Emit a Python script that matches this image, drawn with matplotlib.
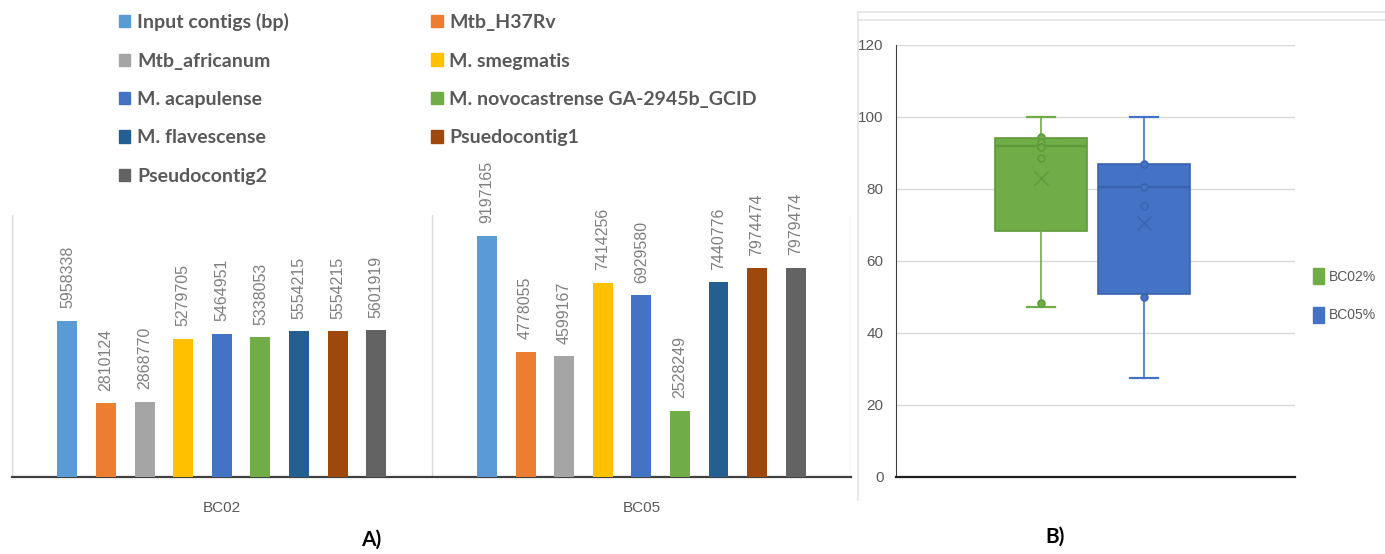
import numpy as np
import matplotlib.pyplot as plt
from matplotlib.patches import Patch
from matplotlib.lines import Line2D

# data for panel A
samples = ["BC02", "BC05"]
series = ["Input contigs (bp)", "Mtb_H37Rv", "Mtb_africanum", "M. smegmatis",
          "M. acapulense", "M. novocastrense GA-2945b_GCID", "M. flavescense",
          "Psuedocontig1", "Pseudocontig2"]
colors = ["#5B9BD5", "#ED7D31", "#A5A5A5", "#FFC000", "#4472C4",
          "#70AD47", "#255E91", "#9E480E", "#636363"]
bc02 = [5958338, 2810124, 2868770, 5279705, 5464951, 5338053, 5554215, 5554215, 5601919]
bc05 = [9197165, 4778055, 4599167, 7414256, 6929580, 2528249, 7440776, 7974474, 7979474]

# data for panel B
box_names = ["BC02%", "BC05%"]
box_colors = ["#70AD47", "#4472C4"]
box_edges = ["#5E9A3A", "#3A63B0"]
whislo = [47.1, 27.5]
q1 = [68.3, 50.7]
med = [91.9, 80.6]
q3 = [94.1, 86.9]
whishi = [100, 100]
means = [83.0, 70.6]
inner_pts = [[94.4, 93.0, 91.7, 88.7, 48.2], [86.9, 80.6, 75.4, 49.9]]

plt.rcParams['font.family'] = ['Liberation Sans Narrow', 'Liberation Sans', 'DejaVu Sans']
grey = "#595959"

fig = plt.figure(figsize=(13.85, 5.54), dpi=100)

# ---- A) grouped bars
ax = fig.add_axes([0.0087, 0.139, 0.6058, 0.473])
x = np.arange(len(samples))
step = 0.092
bw = 0.0476
for i, name in enumerate(series):
    vals = [bc02[i], bc05[i]]
    b = ax.bar(x + (i - 4) * step, vals, bw, color=colors[i], label=name, zorder=3)
    ax.bar_label(b, fmt='%d', rotation=90, padding=9, color="#7F7F7F", fontsize=11.5,
                 family=['Liberation Sans', 'DejaVu Sans'])
ax.set_xlim(-0.5, 1.5)
ax.set_ylim(0, 10000000)
ax.set_yticks([])
ax.set_xticks(x)
ax.set_xticklabels(samples, color=grey, fontsize=11)
ax.set_xticks([-0.5, 0.5, 1.5], minor=True)
ax.tick_params(axis='x', which='both', length=0, pad=17)
ax.grid(which='minor', axis='x', color="#D9D9D9", linewidth=1)
for s in ['top', 'right', 'left']:
    ax.spines[s].set_visible(False)
ax.spines['bottom'].set_color("#404040")
ax.spines['bottom'].set_linewidth(1.6)

handles = [Patch(color=c) for c in colors]
order = [0, 2, 4, 6, 8, 1, 3, 5, 7]
leg = fig.legend([handles[k] for k in order], [series[k] for k in order],
                 ncol=2, loc='upper left', bbox_to_anchor=(0.073, 1.008),
                 frameon=False, prop={'family': 'Lato', 'weight': 'bold', 'size': 14},
                 labelcolor=grey, handlelength=0.6, handleheight=0.6,
                 handletextpad=0.35, labelspacing=1.1, columnspacing=7.3)

# ---- B) box plot
bx = fig.add_axes([0.6469, 0.139, 0.2881, 0.7798])
pos = [0.364, 0.622]
for k in range(2):
    stats = [dict(whislo=whislo[k], q1=q1[k], med=med[k], q3=q3[k],
                  whishi=whishi[k], mean=means[k], fliers=[])]
    bx.bxp(stats, positions=[pos[k]], widths=0.232, capwidths=0.07,
           patch_artist=True, showmeans=True, manage_ticks=False,
           boxprops=dict(facecolor=box_colors[k], edgecolor=box_edges[k], linewidth=1.2),
           medianprops=dict(color=box_edges[k], linewidth=1.6),
           whiskerprops=dict(color=box_colors[k], linewidth=1.2),
           capprops=dict(color=box_colors[k], linewidth=1.6),
           meanprops=dict(marker='x', markersize=10, markeredgecolor=box_edges[k],
                          markeredgewidth=1.0))
    bx.plot([pos[k]] * len(inner_pts[k]), inner_pts[k], 'o', ms=5,
            mfc=box_colors[k], mec=box_edges[k], mew=1.1, zorder=4)
bx.set_xlim(0, 1)
bx.set_ylim(0, 120)
bx.set_yticks(range(0, 121, 20))
bx.set_xticks([])
bx.tick_params(axis='y', length=0, pad=9, labelcolor=grey, labelsize=11)
bx.grid(axis='y', color="#D9D9D9", linewidth=1)
bx.set_axisbelow(True)
for s in ['top', 'right']:
    bx.spines[s].set_visible(False)
bx.spines['left'].set_color("#404040")
bx.spines['bottom'].set_color("#202020")
bx.spines['bottom'].set_linewidth(1.6)
bx.legend([Patch(color=c) for c in box_colors], box_names, loc='center left',
          bbox_to_anchor=(1.03, 0.42), frameon=False, fontsize=10, labelcolor=grey,
          handlelength=0.8, handleheight=1.4, handletextpad=0.4, labelspacing=1.6,
          borderaxespad=0)

# frame lines around panel B
for yy in [1 - 12 / 554, 1 - 20 / 554]:
    fig.add_artist(Line2D([858 / 1385, 1], [yy, yy], color="#E3E3E3", lw=1.2))
fig.add_artist(Line2D([858 / 1385, 858 / 1385], [1 - 12 / 554, 1 - 500 / 554],
                      color="#E3E3E3", lw=1.2))

fig.text(371 / 1385, 1 - 540 / 554, "A)", fontsize=15, fontweight='bold',
         family='Lato', ha='center', va='center')
fig.text(1055 / 1385, 1 - 537 / 554, "B)", fontsize=15, fontweight='bold',
         family='Lato', ha='center', va='center')

fig.savefig("out.png", dpi=100)
